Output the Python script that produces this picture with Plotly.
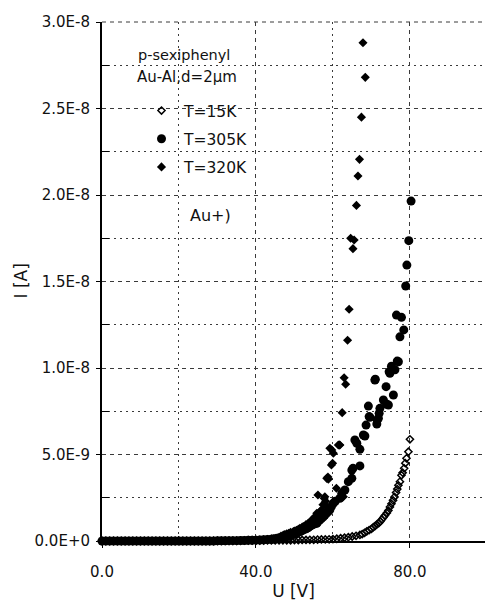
import plotly.graph_objects as go

# ---- data (current in units of 1e-9 A) ----
U_15K = [0, 1, 2, 3, 4, 5, 6, 7, 8, 9, 10, 11, 12, 13, 14, 15, 16, 17, 18, 19,
         20, 21, 22, 23, 24, 25, 26, 27, 28, 29, 30, 31, 32, 33, 34, 35, 36, 37, 38, 39,
         40, 41, 42, 43, 44, 45, 46, 47, 48, 49, 50, 51, 52, 53, 54, 55, 56, 57, 58, 59,
         60, 61, 62, 63, 64, 65, 66, 67, 67.6, 68.2, 68.8, 69.4, 70, 70.5, 71, 71.4,
         71.9, 72.3, 72.7, 73.1, 73.5, 74, 74.4, 74.8, 75.2, 75.6, 76, 76.4, 76.7, 77,
         77.4, 77.8, 78.1, 78.5, 78.8, 79.1, 79.6, 80.0]
I_15K = [0, 0, 0, 0, 0, 0, 0, 0, 0, 0, 0, 0, 0, 0, 0, 0, 0, 0, 0, 0,
         0, 0, 0, 0, 0, 0, 0, 0, 0, 0, 0.01, 0.01, 0.01, 0.01, 0.01, 0.01, 0.01, 0.02, 0.02, 0.02,
         0.02, 0.02, 0.02, 0.03, 0.03, 0.03, 0.03, 0.04, 0.04, 0.04, 0.05, 0.05, 0.06, 0.06, 0.07, 0.07, 0.08, 0.09, 0.09, 0.1,
         0.11, 0.13, 0.16, 0.19, 0.22, 0.26, 0.3, 0.35, 0.4, 0.47, 0.56, 0.63, 0.7, 0.8, 0.88, 0.96,
         1.03, 1.13, 1.24, 1.36, 1.48, 1.62, 1.76, 1.97, 2.15, 2.35, 2.55, 2.8, 3.0, 3.22,
         3.43, 3.8, 3.95, 4.2, 4.5, 4.78, 5.16, 5.88]

U_305K = [0, 1, 2, 3, 4, 5, 6, 7, 8, 9, 10, 11, 12, 13, 14, 15, 16, 17, 18, 19,
          20, 21, 22, 23, 24, 25, 26, 27, 28, 29, 30, 31, 32, 33, 34, 35, 36, 37, 38, 39,
          40, 41, 42, 43, 44, 44.5, 45, 45.5, 46, 46.5, 47, 47.5, 48, 48.5, 49, 49.5, 50, 50.6,
          51, 51.5, 52, 52.3, 53, 53.2, 53.6, 54, 54.4, 54.8, 55.3, 55.8, 56, 56.5, 57, 57.5,
          57.9, 58.3, 58.8, 59.2, 59.6, 60.1, 60.6, 61.8, 62.3, 63.1, 64.0, 64.9, 64.9, 65.2,
          67.0, 65.7, 67.0, 66.2, 67.9, 68.3, 68.6, 71.4, 71.5, 71.8, 69.4, 69.6, 72.0, 72.2,
          69.2, 73.9, 74.4, 73.1, 75.7, 73.8, 71.0, 70.9, 74.6, 74.8, 75.2, 76.1, 77.0, 76.7,
          77.4, 78.4, 77.8, 76.5, 78.9, 79.2, 79.7, 80.3]
I_305K = [0, 0, 0, 0, 0, 0, 0, 0, 0, 0, 0, 0, 0, 0, 0, 0, 0, 0, 0, 0,
          0, 0, 0, 0, 0, 0, 0, 0, 0, 0, 0.01, 0.01, 0.01, 0.02, 0.02, 0.02, 0.03, 0.03, 0.04, 0.04,
          0.05, 0.06, 0.07, 0.08, 0.1, 0.11, 0.12, 0.14, 0.16, 0.18, 0.2, 0.22, 0.25, 0.28, 0.32, 0.36, 0.4, 0.45,
          0.5, 0.55, 0.6, 0.65, 0.7, 0.73, 0.78, 0.85, 0.9, 0.95, 1.0, 1.02, 1.1, 1.2, 1.3, 1.4,
          1.5, 1.6, 1.7, 1.8, 2.0, 2.18, 2.3, 2.47, 2.76, 2.95, 3.43, 3.62, 4.1, 4.2,
          4.34, 5.84, 5.3, 5.65, 6.13, 6.07, 6.7, 6.76, 7.0, 7.09, 7.19, 7.15, 7.38, 7.67,
          7.8, 7.92, 7.86, 8.15, 8.44, 8.92, 9.35, 9.3, 9.79, 9.69, 10.1, 9.9, 10.36, 10.4,
          11.8, 12.2, 12.93, 13.06, 14.74, 15.95, 17.36, 19.65]

U_320K = [0, 1, 2, 3, 4, 5, 6, 7, 8, 9, 10, 11, 12, 13, 14, 15, 16, 17, 18, 19,
          20, 21, 22, 23, 24, 25, 26, 27, 28, 29, 30, 31, 32, 33, 34, 35, 36, 37, 38, 39,
          40, 41, 42, 43, 44, 44.5, 45, 45.5, 46, 46.5, 47.1, 47.5, 48, 48.5, 49, 49.7, 50, 50.5,
          51, 51.4, 52, 52.3, 53, 53.6, 54, 54.5, 55, 55.3, 55.8, 56.1, 56.6, 57.1, 57.4, 57.7,
          57.9, 58.1, 58.4, 58.4, 58.7, 58.8, 59.6, 59.9, 59.2, 60.1, 59.7, 61.4, 61.7, 61.8,
          60.9, 62.7, 62.4, 62.9, 63.3, 63.8, 64.2, 65.2, 64.6, 65.5, 66.1, 66.5, 66.9,
          67.4, 68.4, 67.8]
I_320K = [0, 0, 0, 0, 0, 0, 0, 0, 0, 0, 0, 0, 0, 0, 0, 0, 0, 0, 0, 0,
          0, 0, 0, 0, 0, 0, 0, 0, 0, 0.01, 0.01, 0.01, 0.02, 0.02, 0.02, 0.03, 0.03, 0.04, 0.05, 0.05,
          0.06, 0.07, 0.09, 0.1, 0.12, 0.13, 0.15, 0.18, 0.22, 0.28, 0.35, 0.38, 0.42, 0.45, 0.5, 0.54, 0.58, 0.62,
          0.68, 0.73, 0.8, 0.83, 0.95, 1.02, 1.1, 1.21, 1.3, 1.4, 1.6, 2.66, 1.7, 1.8, 2.1, 2.47,
          2.56, 2.3, 1.98, 3.62, 3.7, 3.57, 4.39, 4.49, 5.36, 5.07, 5.26, 5.55, 5.55, 5.55,
          3.05, 2.56, 7.42, 9.44, 9.06, 11.6, 13.4, 16.9, 17.5, 17.4, 19.4, 21.1, 22.06,
          24.5, 26.8, 28.8]

Y_TICKS = [0, 5, 10, 15, 20, 25, 30]
Y_MINOR = [2.5, 7.5, 12.5, 17.5, 22.5, 27.5]
Y_TICK_TEXT = ["0.0E+0", "5.0E-9", "1.0E-8", "1.5E-8", "2.0E-8", "2.5E-8", "3.0E-8"]
X_TICKS = [0, 40, 80]
X_MINOR = [20, 60]
X_TICK_TEXT = ["0.0", "40.0", "80.0"]

NANO = 1e-9
FONT = "DejaVu Sans"
GRID = "#3a3a3a"

fig = go.Figure()
fig.add_trace(go.Scatter(
    x=U_15K, y=[v * NANO for v in I_15K], mode="markers", name="T=15K",
    legendgroup="a", cliponaxis=False,
    marker=dict(symbol="diamond-open", size=5.5, color="black", line=dict(width=1.5, color="black"))))
fig.add_trace(go.Scatter(
    x=U_305K, y=[v * NANO for v in I_305K], mode="markers", name="T=305K",
    legendgroup="b", cliponaxis=False,
    marker=dict(symbol="circle", size=9, color="black")))
fig.add_trace(go.Scatter(
    x=U_320K, y=[v * NANO for v in I_320K], mode="markers", name="T=320K",
    legendgroup="c", cliponaxis=False,
    marker=dict(symbol="diamond", size=7, color="black")))

fig.update_layout(
    width=485, height=605,
    margin=dict(l=102, r=0, t=22, b=64),
    paper_bgcolor="white", plot_bgcolor="white",
    font=dict(family=FONT, size=15, color="#111"),
    showlegend=True,
    legend=dict(x=(139 - 102) / 383, y=(541 - 94) / 519, xanchor="left", yanchor="top",
                bgcolor="rgba(0,0,0,0)", font=dict(size=15.5, color="#111"),
                tracegroupgap=5, itemwidth=35),
    annotations=[
        dict(text="p-sexiphenyl", x=(184 - 102) / 383, y=(541 - 55) / 519, xref="paper", yref="paper",
             xanchor="center", yanchor="middle", showarrow=False, font=dict(size=14.5)),
        dict(text="Au-Al,d=2μm", x=(187 - 102) / 383, y=(541 - 77) / 519, xref="paper", yref="paper",
             xanchor="center", yanchor="middle", showarrow=False, font=dict(size=15)),
        dict(text="Au+)", x=(210 - 102) / 383, y=(541 - 216) / 519, xref="paper", yref="paper",
             xanchor="center", yanchor="middle", showarrow=False, font=dict(size=16)),
        dict(text="I [A]", x=(20 - 102) / 383, y=0.5, xref="paper", yref="paper",
             xanchor="center", yanchor="middle", textangle=-90, showarrow=False, font=dict(size=17)),
    ],
    shapes=[
        dict(type="line", xref="paper", yref="paper", x0=0, x1=1, y0=1, y1=1,
             line=dict(color=GRID, width=1, dash="4px,4px"), layer="below"),
    ],
)

fig.update_xaxes(
    range=[0, 99.5], tickvals=X_TICKS, ticktext=X_TICK_TEXT,
    showline=True, linecolor="black", linewidth=1.5,
    ticks="outside", ticklen=5, tickcolor="black", ticklabelstandoff=11,
    showgrid=True, gridcolor=GRID, griddash="4px,4px", gridwidth=1,
    zeroline=False,
    minor=dict(tickvals=X_MINOR, ticks="inside", ticklen=5, tickcolor="black",
               showgrid=True, gridcolor=GRID, griddash="2px,4px", gridwidth=1),
    title=dict(text="U [V]", font=dict(size=17), standoff=3),
)
fig.update_yaxes(
    range=[0, 30e-9], tickvals=[v * NANO for v in Y_TICKS], ticktext=Y_TICK_TEXT,
    showline=True, linecolor="black", linewidth=2,
    ticks="outside", ticklen=4, tickcolor="black", ticklabelstandoff=3,
    showgrid=True, gridcolor=GRID, griddash="4px,4px", gridwidth=1,
    zeroline=False,
    minor=dict(tickvals=[v * NANO for v in Y_MINOR], ticks="inside",
               ticklen=7, tickcolor="black",
               showgrid=True, gridcolor=GRID, griddash="2px,4px", gridwidth=1),
)

fig.write_html("out.html")
